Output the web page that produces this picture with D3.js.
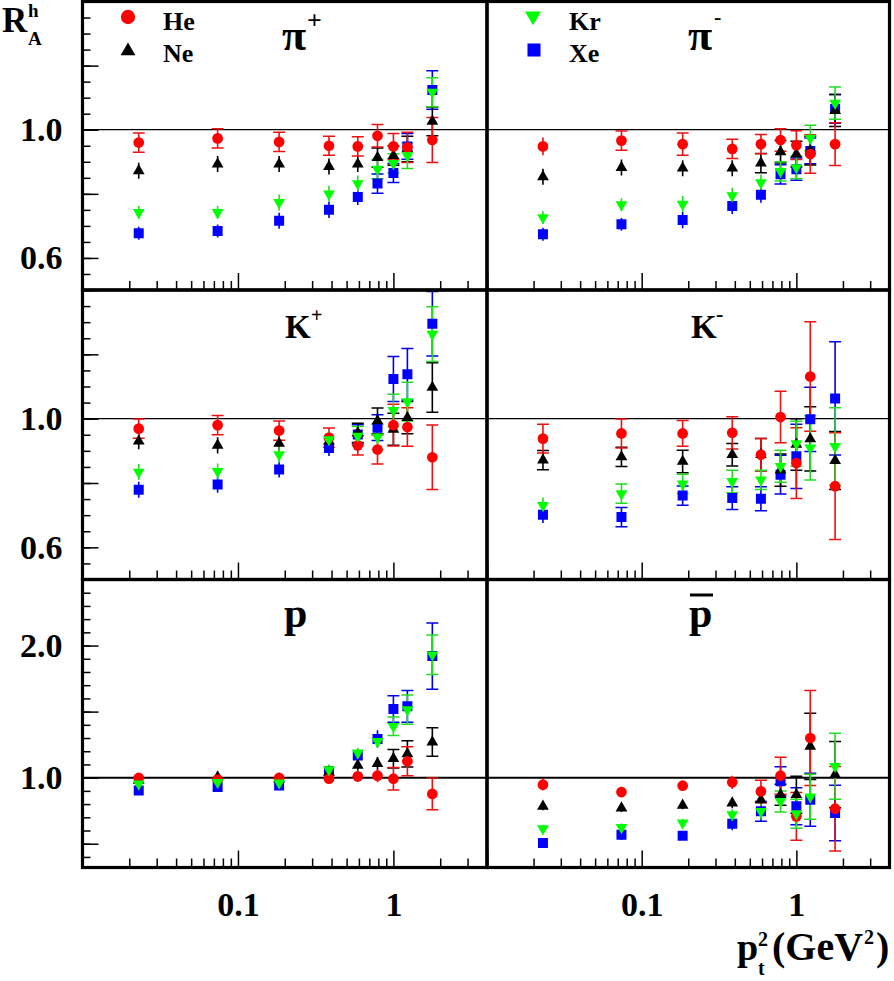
<!DOCTYPE html>
<html>
<head>
<meta charset="utf-8">
<script src="https://cdn.jsdelivr.net/npm/d3@7"></script>
<style>
  body { margin: 0; background: #fff; }
  svg { display: block; font-family: "Liberation Serif", "Times New Roman", serif; font-weight: bold; }
</style>
</head>
<body>
<svg id="chart" width="894" height="981"></svg>
<script>
/* ------------------ data ------------------ */

// p_t^2 bin centres (GeV^2), same for every panel
const X_BINS = [0.023, 0.074, 0.184, 0.385, 0.59, 0.79, 1.0, 1.23, 1.78];
const SPECIES = ["Xe", "Ne", "He", "Kr"]; // drawing order

const PI_PLUS = {
  He: [0.960, 0.973, 0.962, 0.950, 0.948, 0.981, 0.948, 0.945, 0.968],
  Ne: [0.872, 0.893, 0.893, 0.885, 0.893, 0.913, 0.919, 0.940, 1.026],
  Kr: [0.742, 0.742, 0.773, 0.800, 0.832, 0.877, 0.895, 0.919, 1.117],
  Xe: [0.677, 0.684, 0.716, 0.750, 0.790, 0.832, 0.865, 0.948, 1.124]
};
const PI_PLUS_ERR = {
  He: [0.03, 0.03, 0.03, 0.03, 0.03, 0.035, 0.04, 0.047, 0.07],
  Ne: [0.025, 0.025, 0.025, 0.025, 0.025, 0.03, 0.03, 0.04, 0.045],
  Kr: [0.02, 0.02, 0.025, 0.025, 0.025, 0.03, 0.03, 0.04, 0.045],
  Xe: [0.02, 0.02, 0.025, 0.025, 0.025, 0.03, 0.03, 0.04, 0.06]
};

const PI_MINUS = {
  He: [0.948, 0.966, 0.955, 0.940, 0.955, 0.968, 0.952, 0.924, 0.955],
  Ne: [0.853, 0.882, 0.880, 0.880, 0.896, 0.931, 0.924, 0.935, 1.060],
  Kr: [0.726, 0.766, 0.768, 0.794, 0.835, 0.870, 0.882, 0.974, 1.083],
  Xe: [0.674, 0.705, 0.718, 0.762, 0.797, 0.861, 0.877, 0.934, 1.065]
};
const PI_MINUS_ERR = {
  He: [0.028, 0.03, 0.035, 0.03, 0.03, 0.035, 0.045, 0.06, 0.067],
  Ne: [0.025, 0.025, 0.025, 0.025, 0.03, 0.035, 0.04, 0.045, 0.05],
  Kr: [0.02, 0.02, 0.025, 0.025, 0.025, 0.03, 0.035, 0.04, 0.05],
  Xe: [0.02, 0.02, 0.025, 0.025, 0.025, 0.03, 0.035, 0.04, 0.045]
};

const K_PLUS = {
  He: [0.969, 0.980, 0.963, 0.941, 0.917, 0.904, 0.980, 0.974, 0.880],
  Ne: [0.930, 0.917, 0.923, 0.930, 0.956, 0.993, 0.967, 1.003, 1.097],
  Kr: [0.834, 0.836, 0.888, 0.935, 0.946, 0.943, 1.026, 1.053, 1.263],
  Xe: [0.779, 0.795, 0.842, 0.909, 0.951, 0.972, 1.123, 1.138, 1.295]
};
const K_PLUS_ERR = {
  He: [0.03, 0.03, 0.03, 0.03, 0.03, 0.045, 0.065, 0.06, 0.10],
  Ne: [0.025, 0.025, 0.025, 0.025, 0.03, 0.04, 0.05, 0.05, 0.077],
  Kr: [0.025, 0.025, 0.025, 0.025, 0.03, 0.04, 0.05, 0.06, 0.085],
  Xe: [0.025, 0.025, 0.025, 0.025, 0.03, 0.04, 0.07, 0.08, 0.10]
};

const K_MINUS = {
  He: [0.938, 0.954, 0.954, 0.956, 0.888, 1.005, 0.862, 1.131, 0.790],
  Ne: [0.871, 0.881, 0.867, 0.888, 0.888, 0.840, 0.920, 0.937, 0.870],
  Kr: [0.730, 0.767, 0.797, 0.805, 0.810, 0.852, 0.922, 0.909, 0.914],
  Xe: [0.701, 0.694, 0.761, 0.753, 0.751, 0.826, 0.883, 0.998, 1.063]
};
const K_MINUS_ERR = {
  He: [0.045, 0.045, 0.04, 0.05, 0.05, 0.08, 0.11, 0.17, 0.166],
  Ne: [0.03, 0.03, 0.035, 0.035, 0.05, 0.05, 0.08, 0.10, 0.09],
  Kr: [0.025, 0.03, 0.03, 0.035, 0.03, 0.05, 0.07, 0.10, 0.12],
  Xe: [0.025, 0.03, 0.03, 0.035, 0.037, 0.06, 0.10, 0.10, 0.176]
};

const PROTON = {
  He: [0.998, 0.985, 0.998, 0.992, 1.010, 1.015, 0.992, 1.124, 0.877],
  Ne: [0.980, 1.005, 0.990, 1.040, 1.093, 1.106, 1.144, 1.180, 1.270],
  Kr: [0.952, 0.965, 0.960, 1.060, 1.187, 1.275, 1.389, 1.515, 1.930],
  Xe: [0.902, 0.930, 0.940, 1.048, 1.167, 1.293, 1.520, 1.540, 1.920]
};
const PROTON_ERR = {
  He: [0.03, 0.03, 0.03, 0.03, 0.04, 0.05, 0.085, 0.11, 0.12],
  Ne: [0.03, 0.03, 0.03, 0.03, 0.04, 0.05, 0.07, 0.10, 0.107],
  Kr: [0.03, 0.03, 0.03, 0.04, 0.04, 0.05, 0.07, 0.11, 0.15],
  Xe: [0.03, 0.03, 0.03, 0.04, 0.04, 0.065, 0.10, 0.12, 0.25]
};

const ANTIPROTON = {
  He: [0.947, 0.891, 0.939, 0.965, 0.896, 1.015, 0.707, 1.300, 0.765],
  Ne: [0.783, 0.770, 0.790, 0.808, 0.833, 0.871, 0.871, 1.237, 1.023],
  Kr: [0.614, 0.624, 0.657, 0.720, 0.745, 0.820, 0.727, 0.855, 1.086],
  Xe: [0.505, 0.568, 0.561, 0.652, 0.745, 0.972, 0.783, 0.833, 0.733]
};
const ANTIPROTON_ERR = {
  He: [0.045, 0.04, 0.03, 0.05, 0.085, 0.14, 0.18, 0.36, 0.32],
  Ne: [0.03, 0.03, 0.03, 0.04, 0.06, 0.08, 0.14, 0.25, 0.25],
  Kr: [0.03, 0.03, 0.03, 0.04, 0.06, 0.08, 0.11, 0.17, 0.25],
  Xe: [0.03, 0.04, 0.03, 0.05, 0.075, 0.11, 0.14, 0.20, 0.21]
};

const X_LABELS = [0.1, 1];
const Y_LABELS = [[0.6, 1.0], [0.6, 1.0], [1.0, 2.0]];

/* ------------------ layout ------------------ */

const COLS = [[82.5, 487], [487, 889.5]];
const ROWS = [[1.5, 290], [290, 579.5], [579.5, 867.5]];
const Y_DOMAINS = [[0.5, 1.4], [0.5, 1.4], [0.32, 2.5]];
const X_DOMAIN = [0.01, 4];
const LABEL_SIZE = 34;

const COLOR = { He: "#ff0000", Ne: "#000000", Kr: "#00ff00", Xe: "#0000ff" };
const BAR_COLOR = { He: "#ee1111", Ne: "#000000", Kr: "#22dd22", Xe: "#0000ee" };
const SYMBOL = { He: d3.symbolCircle, Ne: d3.symbolTriangle, Kr: d3.symbolTriangle, Xe: d3.symbolSquare };
const SIZE = { He: 90, Ne: 60, Kr: 60, Xe: 100 };
const LEG_SIZE = { He: 160, Ne: 95, Kr: 110, Xe: 170 };

const PANELS = [
  { row: 0, col: 0, vals: PI_PLUS, errs: PI_PLUS_ERR },
  { row: 0, col: 1, vals: PI_MINUS, errs: PI_MINUS_ERR },
  { row: 1, col: 0, vals: K_PLUS, errs: K_PLUS_ERR },
  { row: 1, col: 1, vals: K_MINUS, errs: K_MINUS_ERR },
  { row: 2, col: 0, vals: PROTON, errs: PROTON_ERR },
  { row: 2, col: 1, vals: ANTIPROTON, errs: ANTIPROTON_ERR }
];

/* ------------------ render ------------------ */

const svg = d3.select("#chart");
svg.append("rect").attr("width", 894).attr("height", 981).attr("fill", "#fff");

const xMajor = [0.01, 0.1, 1];
const xMinor = [];
xMajor.forEach(d => d3.range(2, 10).forEach(k => { if (k * d <= 4) xMinor.push(k * d); }));

function marker(parent, sp, size, cx, cy) {
  parent.append("path")
    .attr("d", d3.symbol().type(SYMBOL[sp]).size(size)())
    .attr("fill", COLOR[sp])
    .attr("transform", `translate(${cx},${cy})` + (sp === "Kr" ? " rotate(180)" : ""));
}

function styleLabels(a) {
  a.select(".domain").remove();
  a.selectAll("text")
    .attr("font-size", LABEL_SIZE)
    .attr("font-family", "Liberation Serif")
    .attr("font-weight", "bold")
    .attr("fill", "#000");
}

PANELS.forEach((p, idx) => {
  const [x0, x1] = COLS[p.col];
  const [y0, y1] = ROWS[p.row];
  const x = d3.scaleLog().domain(X_DOMAIN).range([x0, x1]);
  const y = d3.scaleLinear().domain(Y_DOMAINS[p.row]).range([y1, y0]);

  const g = svg.append("g");
  const clipId = "clip" + idx;
  g.append("clipPath").attr("id", clipId)
    .append("rect").attr("x", x0).attr("y", y0).attr("width", x1 - x0).attr("height", y1 - y0);
  const plot = g.append("g").attr("clip-path", `url(#${clipId})`);

  // reference line at 1
  plot.append("line")
    .attr("x1", x0).attr("x2", x1)
    .attr("y1", y(1)).attr("y2", y(1))
    .attr("stroke", "#000").attr("stroke-width", p.row === 2 ? 2 : 1.2);

  // error bars
  SPECIES.forEach(sp => {
    const pts = X_BINS.map((xv, i) => ({
      x: x(xv),
      lo: y(p.vals[sp][i] - p.errs[sp][i]),
      hi: y(p.vals[sp][i] + p.errs[sp][i])
    }));
    const bg = plot.append("g").attr("stroke", BAR_COLOR[sp]);
    bg.selectAll("line").data(pts).join("line")
      .attr("x1", d => d.x).attr("x2", d => d.x)
      .attr("y1", d => d.lo).attr("y2", d => d.hi)
      .attr("stroke-width", 1.6);
    bg.selectAll("path").data(pts.filter(d => (d.lo - d.hi) / 2 >= 9)).join("path")
      .attr("d", d => `M${d.x - 6},${d.lo}H${d.x + 6}M${d.x - 6},${d.hi}H${d.x + 6}`)
      .attr("stroke-width", 1.5);
  });

  // markers
  SPECIES.forEach(sp => {
    const mg = plot.append("g");
    X_BINS.forEach((xv, i) => marker(mg, sp, SIZE[sp], x(xv), y(p.vals[sp][i])));
  });

  // x ticks (pointing up from bottom edge)
  g.append("g").attr("transform", `translate(0,${y1})`)
    .call(d3.axisTop(x).tickValues(xMajor).tickSize(17).tickFormat(""))
    .call(a => a.select(".domain").remove());
  g.append("g").attr("transform", `translate(0,${y1})`)
    .call(d3.axisTop(x).tickValues(xMinor).tickSize(9).tickFormat(""))
    .call(a => a.select(".domain").remove());

  // y ticks only on left panels
  if (p.col === 0) {
    const [d0, d1] = Y_DOMAINS[p.row];
    const majorStep = p.row === 2 ? 0.5 : 0.2;
    const minorStep = p.row === 2 ? 0.1 : 0.05;
    const maj = d3.range(0, 3, majorStep).map(v => +v.toFixed(2)).filter(v => v >= d0 && v <= d1);
    const min = d3.range(0, 3, minorStep).map(v => +v.toFixed(2)).filter(v => v >= d0 && v <= d1);
    g.append("g").attr("transform", `translate(${x0},0)`)
      .call(d3.axisRight(y).tickValues(maj).tickSize(16).tickFormat(""))
      .call(a => a.select(".domain").remove());
    g.append("g").attr("transform", `translate(${x0},0)`)
      .call(d3.axisRight(y).tickValues(min).tickSize(8).tickFormat(""))
      .call(a => a.select(".domain").remove());
    g.append("g").attr("transform", `translate(${x0},0)`)
      .call(d3.axisLeft(y).tickValues(Y_LABELS[p.row]).tickSize(0).tickPadding(20).tickFormat(d3.format(".1f")))
      .call(styleLabels);
  }

  // x labels under bottom row
  if (p.row === 2) {
    g.append("g").attr("transform", `translate(0,${y1})`)
      .call(d3.axisBottom(x).tickValues(X_LABELS).tickSize(0).tickPadding(24).tickFormat(d => String(d)))
      .call(styleLabels);
  }

  g.selectAll(".tick line").attr("stroke", "#000").attr("stroke-width", 1.5);
});

// thick frames
const frame = svg.append("g").attr("fill", "none").attr("stroke", "#000").attr("stroke-width", 3.2);
PANELS.forEach(p => {
  const [x0, x1] = COLS[p.col];
  const [y0, y1] = ROWS[p.row];
  frame.append("rect").attr("x", x0).attr("y", y0).attr("width", x1 - x0).attr("height", y1 - y0);
});

/* ------------------ legend ------------------ */

const legend = [
  { sp: "He", x: 128, y: 17, tx: 163, ty: 30 },
  { sp: "Ne", x: 128, y: 51, tx: 163, ty: 62 },
  { sp: "Kr", x: 533, y: 16, tx: 569, ty: 30 },
  { sp: "Xe", x: 534, y: 50, tx: 569, ty: 62 }
];
legend.forEach(l => {
  marker(svg, l.sp, LEG_SIZE[l.sp], l.x, l.y);
  svg.append("text").attr("x", l.tx).attr("y", l.ty).attr("font-size", 26).text(l.sp);
});

/* ------------------ titles ------------------ */

function txt(x, y, size, s) {
  return svg.append("text").attr("x", x).attr("y", y).attr("font-size", size).text(s);
}

// pi+ / pi-
txt(282, 50, 44, "π");
txt(307, 29, 26, "+");
txt(688, 50, 44, "π");
txt(714, 24, 22, "-");
// K+ / K-
txt(285, 338, 33, "K");
txt(311, 322, 20, "+");
txt(691, 338, 33, "K");
txt(716, 321, 22, "-");
// p / pbar
txt(284, 627, 42, "p");
txt(689, 627, 42, "p");
svg.append("line").attr("x1", 690).attr("x2", 713).attr("y1", 595).attr("y2", 595)
  .attr("stroke", "#000").attr("stroke-width", 3);

// y axis title R_A^h
txt(2, 32, 35, "R");
txt(28, 17, 19, "h");
txt(28, 45, 19, "A");

// x axis title p_t^2 (GeV^2)
txt(737, 960, 38, "p");
txt(758, 975, 20, "t");
txt(758, 946, 20, "2");
txt(772, 960, 40, "(GeV");
txt(864, 944, 20, "2");
txt(876, 960, 40, ")");
</script>
</body>
</html>
